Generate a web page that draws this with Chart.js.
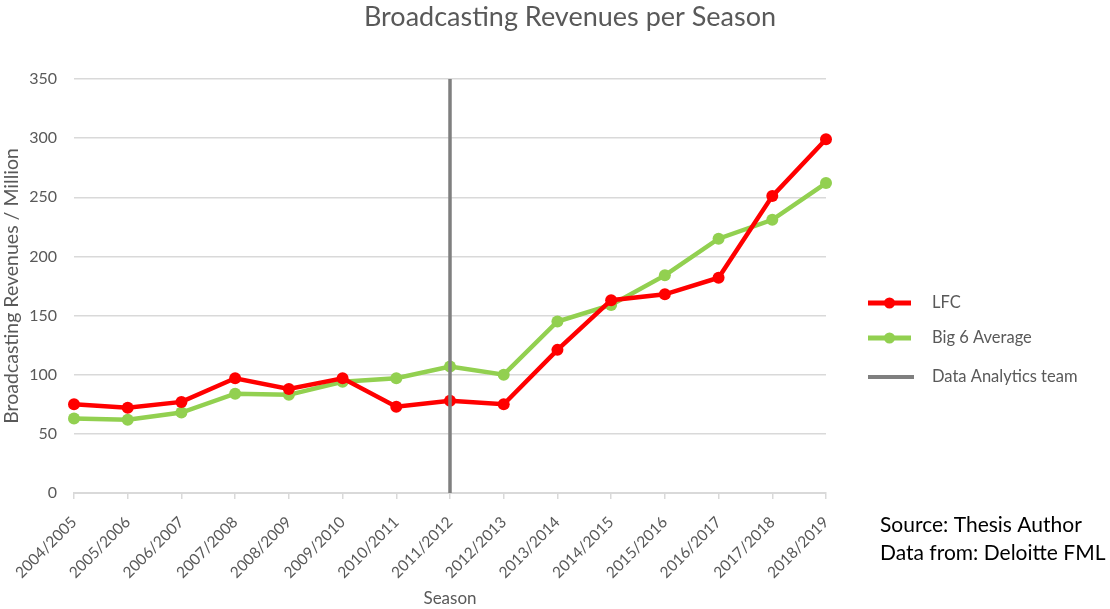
<!DOCTYPE html>
<html>
<head>
<meta charset="utf-8">
<script src="https://cdn.jsdelivr.net/npm/chart.js@4.4.0/dist/chart.umd.min.js"></script>
<style>
  html, body { margin: 0; padding: 0; background: #fff; }
  #wrap { width: 1110px; height: 609px; position: relative; }
</style>
</head>
<body>
<div id="wrap"><canvas id="grafica"></canvas></div>
<script>
const seasons = ['2004/2005', '2005/2006', '2006/2007', '2007/2008', '2008/2009', '2009/2010', '2010/2011',
    '2011/2012', '2012/2013', '2013/2014', '2014/2015', '2015/2016', '2016/2017', '2017/2018', '2018/2019'];
const lfc = [75, 72, 77, 97, 88, 97, 73, 78, 75, 121, 163, 168, 182, 251, 299];
const big6 = [63, 62, 68, 84, 83, 94, 97, 107, 100, 145, 159, 184, 215, 231, 262];
const markerSeason = '2011/2012';
const markerRange = [0, 350];
const yTicks = [0, 50, 100, 150, 200, 250, 300, 350];

const fuente = 'Lato, "Noto Sans", sans-serif';
const gris = '#595959';

// title, legend and source note drawn by hand so they sit where the original has them
const extras = {
    id: 'extras',
    afterDraw(chart) {
        const ctx = chart.ctx;
        ctx.save();
        ctx.fillStyle = gris;
        ctx.font = '27px ' + fuente;
        ctx.textAlign = 'center';
        ctx.textBaseline = 'middle';
        ctx.fillText('Broadcasting Revenues per Season', 570, 17);

        const items = [
            { label: 'LFC', color: '#ff0000', dot: true, y: 303 },
            { label: 'Big 6 Average', color: '#92d050', dot: true, y: 338 },
            { label: 'Data Analytics team', color: '#7f7f7f', dot: false, y: 377 }
        ];
        ctx.textAlign = 'left';
        ctx.font = '16.5px ' + fuente;
        items.forEach(it => {
            ctx.strokeStyle = it.color;
            ctx.lineWidth = it.dot ? 5 : 4;
            ctx.beginPath();
            ctx.moveTo(868, it.y);
            ctx.lineTo(it.dot ? 911 : 914, it.y);
            ctx.stroke();
            if (it.dot) {
                ctx.fillStyle = it.color;
                ctx.beginPath();
                ctx.arc(889.5, it.y, 5.5, 0, Math.PI * 2);
                ctx.fill();
            }
            ctx.fillStyle = gris;
            ctx.fillText(it.label, 932, it.y);
        });

        ctx.fillStyle = '#000';
        ctx.font = '21px ' + fuente;
        ctx.fillText('Source: Thesis Author', 880, 525);
        ctx.fillText('Data from: Deloitte FML', 880, 553);
        ctx.restore();
    }
};

document.addEventListener('DOMContentLoaded', () => {
    const ctx = document.getElementById('grafica').getContext('2d');
    new Chart(ctx, {
        type: 'line',
        data: {
            labels: seasons,
            datasets: [{
                label: 'LFC',
                data: lfc,
                borderColor: '#ff0000',
                backgroundColor: '#ff0000',
                borderWidth: 4.5,
                pointRadius: 6,
                pointBorderWidth: 0,
                pointHoverRadius: 6,
                tension: 0
            }, {
                label: 'Big 6 Average',
                data: big6,
                borderColor: '#92d050',
                backgroundColor: '#92d050',
                borderWidth: 4.5,
                pointRadius: 6,
                pointBorderWidth: 0,
                pointHoverRadius: 6,
                tension: 0
            }, {
                label: 'Data Analytics team',
                data: markerRange.map(v => ({ x: markerSeason, y: v })),
                borderColor: '#7f7f7f',
                borderWidth: 3.5,
                pointRadius: 0,
                order: -1
            }]
        },
        options: {
            responsive: true,
            maintainAspectRatio: false,
            animation: false,
            layout: { padding: { left: 0, right: 284, top: 79, bottom: 0 } },
            plugins: {
                legend: { display: false },
                tooltip: { enabled: false }
            },
            scales: {
                x: {
                    offset: false,
                    afterFit: axis => { axis.height = 116; axis.paddingLeft = 0; axis.paddingRight = 0; },
                    grid: { drawOnChartArea: false, drawTicks: true, tickLength: 6, color: '#d9d9d9', lineWidth: 1.5 },
                    border: { color: '#d9d9d9', width: 2 },
                    ticks: { color: gris, font: { family: fuente, size: 15.5 }, minRotation: 45, maxRotation: 45, padding: 14 },
                    title: { display: true, text: 'Season', color: gris, font: { family: fuente, size: 17 }, padding: { top: 2, bottom: 0 } }
                },
                y: {
                    min: 0,
                    max: 350,
                    afterFit: axis => { axis.width = 74; },
                    afterBuildTicks: axis => { axis.ticks = yTicks.map(v => ({ value: v })); },
                    grid: { color: '#d9d9d9', lineWidth: 1.5, drawTicks: false },
                    border: { display: false },
                    ticks: { color: gris, font: { family: fuente, size: 16 }, padding: 17 },
                    title: { display: true, text: 'Broadcasting Revenues / Million', color: gris, font: { family: fuente, size: 19.5 }, padding: { top: 0, bottom: 4 } }
                }
            }
        },
        plugins: [extras]
    });
});
</script>
</body>
</html>
